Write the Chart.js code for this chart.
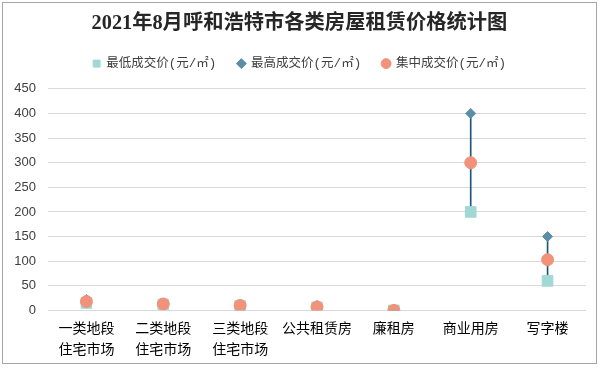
<!DOCTYPE html>
<html><head><meta charset="utf-8">
<script src="https://cdn.jsdelivr.net/npm/chart.js@4"></script>
<style>
html,body{margin:0;padding:0;background:#fff;}
#wrap{position:absolute;left:0;top:0;width:604px;height:368px;}
#frame{position:absolute;left:2px;top:2px;width:595px;height:362px;border:1px solid #a6a6a6;box-sizing:border-box;pointer-events:none;}
</style></head>
<body>
<div id="wrap"><canvas id="c" width="604" height="368"></canvas><div id="frame"></div></div>
<script>
const categories = [['一类地段','住宅市场'],['二类地段','住宅市场'],['三类地段','住宅市场'],'公共租赁房','廉租房','商业用房','写字楼'];
const lowValues = [15, 12, 9, 6, 0, 200, 60];
const highValues = [22, 14, 12, 10, 1, 400, 150];
const midValues = [18, 13, 10, 7, 0, 300, 103];
const seriesNames = ['最低成交价(元/㎡)', '最高成交价(元/㎡)', '集中成交价(元/㎡)'];
const yTicks = [0, 50, 100, 150, 200, 250, 300, 350, 400, 450];

const cjk = '"Liberation Sans","Noto Sans CJK SC",sans-serif';
const ranges = lowValues.map((v, i) => [v, highValues[i]]);

const legendGap = {
  id:'legendGap',
  beforeInit(chart){
    const fit = chart.legend.fit;
    chart.legend.fit = function(){ fit.call(this); this.height += 9; };
  }
};

new Chart(document.getElementById('c'), {
  type: 'line',
  plugins:[legendGap],
  data: {
    labels: categories,
    datasets: [
      {type:'bar', label:'hl', data: ranges, backgroundColor:'#1b5a75', barThickness:1, order:10},
      {label: seriesNames[0], data: lowValues, showLine:false, pointStyle:'rect', pointRadius:7.5, pointBackgroundColor:'#a2d8d4', pointBorderColor:'#a2d8d4', backgroundColor:'#a2d8d4', borderColor:'#a2d8d4', order:3},
      {label: seriesNames[1], data: highValues, showLine:false, pointStyle:'rectRot', pointRadius:5, pointBackgroundColor:'#5a8ea8', pointBorderColor:'#5a8ea8', backgroundColor:'#5a8ea8', borderColor:'#5a8ea8', order:2},
      {label: seriesNames[2], data: midValues, showLine:false, pointStyle:'circle', pointRadius:6, pointBackgroundColor:'#f0937a', pointBorderColor:'#f0937a', backgroundColor:'#f0937a', borderColor:'#f0937a', order:1}
    ]
  },
  options: {
    responsive:false, animation:false,
    layout:{padding:{left:13, right:18, top:4, bottom:7}},
    plugins:{
      tooltip:{enabled:false},
      title:{display:true, text:'2021年8月呼和浩特市各类房屋租赁价格统计图', color:'#262626',
        font:{family:'"Liberation Serif","Noto Sans CJK SC",serif', size:20.3, weight:'bold'}, padding:{top:8,bottom:7}},
      legend:{display:true, position:'top',
        labels:{filter:(item)=>item.text!=='hl', sort:(a,b)=>a.datasetIndex-b.datasetIndex,
          generateLabels:(chart)=>{
            const items = Chart.defaults.plugins.legend.labels.generateLabels(chart);
            items.forEach(it=>{ if(it.text!=='hl' && it.datasetIndex < 3) it.text = it.text + ' '; });
            return items;
          },
          usePointStyle:true, boxWidth:7, boxHeight:7, padding:14, color:'#404040',
          font:{family:'"Liberation Mono","Noto Sans CJK SC",monospace', size:12.5}}}
    },
    scales:{
      x:{offset:true, grid:{display:false}, border:{display:false},
        ticks:{color:'#000', font:{family:cjk, size:14, lineHeight:1.45}, maxRotation:0, autoSkip:false, padding:1}},
      y:{min:0, max:450, afterBuildTicks:(ax)=>{ax.ticks = yTicks.map(v=>({value:v}));},
        afterFit:(ax)=>{ax.width = 35;},
        grid:{color:'#d9d9d9', drawTicks:false}, border:{display:false},
        ticks:{color:'#404040', font:{family:cjk, size:13}, padding:12}}
    }
  }
});
</script>
</body></html>
